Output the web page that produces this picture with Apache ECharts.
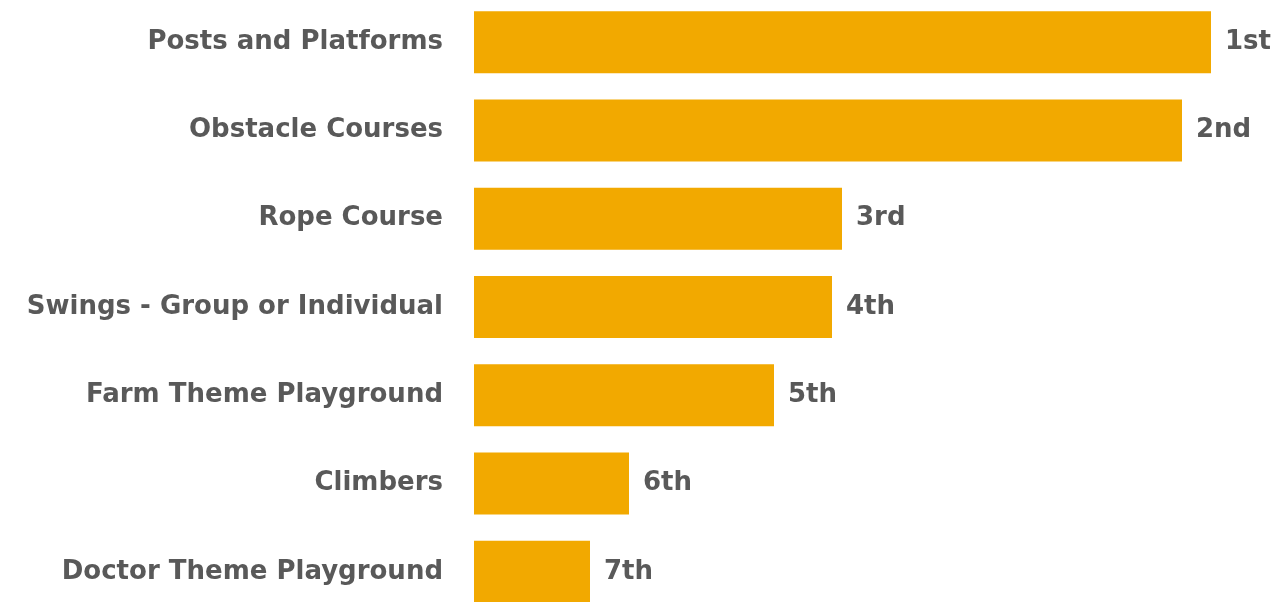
<!DOCTYPE html>
<html>
<head>
<meta charset="utf-8">
<script src="https://cdn.jsdelivr.net/npm/echarts@6/dist/echarts.min.js"></script>
<style>
  html, body { margin: 0; padding: 0; background: #fff; overflow: hidden; height: 602px; }
  #chart { width: 1277px; height: 620px; margin-top: -2px; }
</style>
</head>
<body>
<div id="chart"></div>
<script>
// Top to bottom as shown
var categories = ['Posts and Platforms', 'Obstacle Courses', 'Rope Course', 'Swings - Group or Individual',
  'Farm Theme Playground', 'Climbers', 'Doctor Theme Playground'];
var scores = [737, 708, 368, 358, 300, 155, 116];
var rankLabels = ['1st', '2nd', '3rd', '4th', '5th', '6th', '7th'];

var chart = echarts.init(document.getElementById('chart'));

chart.setOption({
  animation: false,
  grid: {left: 474, right: 3, top: 0, height: 618, containLabel: false},
  xAxis: {
    type: 'value',
    min: 0,
    max: 800,
    show: false
  },
  yAxis: {
    type: 'category',
    data: categories,
    inverse: true,
    axisLine: {show: false},
    axisTick: {show: false},
    axisLabel: {
      margin: 31,
      color: '#595959',
      fontFamily: 'DejaVu Sans',
      fontWeight: 'bold',
      fontSize: 26
    }
  },
  series: [{
    type: 'bar',
    data: scores,
    barWidth: 62,
    itemStyle: {color: '#F2A900'},
    label: {
      show: true,
      position: 'right',
      distance: 14,
      color: '#595959',
      fontFamily: 'DejaVu Sans',
      fontWeight: 'bold',
      fontSize: 26,
      formatter: function(p) { return rankLabels[p.dataIndex]; }
    }
  }]
});
</script>
</body>
</html>
